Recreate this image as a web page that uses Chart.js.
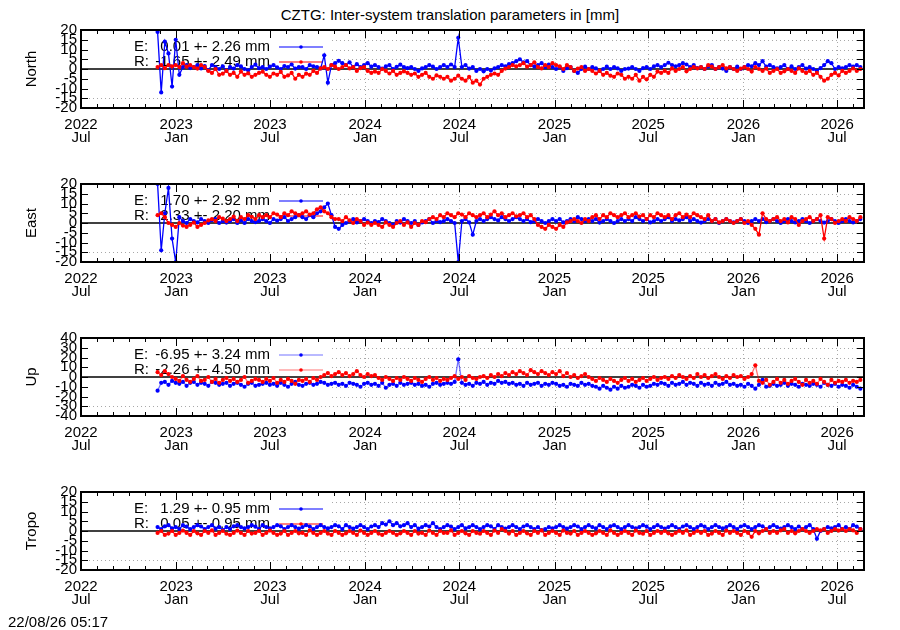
<!DOCTYPE html>
<html>
<head>
<meta charset="utf-8">
<script src="https://cdn.jsdelivr.net/npm/chart.js@4.4.1/dist/chart.umd.min.js"></script>
<style>
  body { margin: 0; background: #fff; width: 900px; height: 630px; position: relative; overflow: hidden;
         font-family: 'Liberation Sans', Arial, sans-serif; color: #000; }
  .panel { position: absolute; left: 0; width: 900px; height: 136px; }
  #title { position: absolute; top: 6px; left: 0; width: 900px; text-align: center; font-size: 15px; line-height: 17px; }
  #stamp { position: absolute; left: 8px; top: 613px; font-size: 15px; line-height: 17px; }
</style>
</head>
<body>
<div id="title">CZTG: Inter-system translation parameters in [mm]</div>
<canvas id="c0" class="panel" width="900" height="136" style="top:17px"></canvas>
<canvas id="c1" class="panel" width="900" height="136" style="top:171px"></canvas>
<canvas id="c2" class="panel" width="900" height="136" style="top:325px"></canvas>
<canvas id="c3" class="panel" width="900" height="136" style="top:479px"></canvas>
<div id="stamp">22/08/26 05:17</div>
<script>
// gnuplot-like 4 panel plot, x axis in days since 2022-07-01
const FONT = "'Liberation Sans', Arial, sans-serif";
const FIRST_DAY = 148;   // first sample, late Nov 2022
const STEP_DAYS = 7;     // one sample per week
const X_MAX = 1513;      // 2026-08-22

const panelNames = ['North', 'East', 'Up', 'Tropo'];
const yLimits = [20, 20, 40, 20];
const yStepSizes = [5, 5, 10, 5];
const keyE = ['0.01 +- 2.26 mm', '1.70 +- 2.92 mm', '-6.95 +- 3.24 mm', '1.29 +- 0.95 mm'];
const keyR = ['-1.65 +- 2.49 mm', '2.33 +- 2.20 mm', '-2.26 +- 4.50 mm', '0.05 +- 0.95 mm'];
const halfYearLabels = [['2022', 'Jul'], ['2023', 'Jan'], ['2023', 'Jul'], ['2024', 'Jan'], ['2024', 'Jul'],
                        ['2025', 'Jan'], ['2025', 'Jul'], ['2026', 'Jan'], ['2026', 'Jul']];

const northE = [
  19, -12, 14, 8, -9, 15, -3, 1, 2, 0.5,
  1, 2, 0.3, 1.5, -0.6, 2, 1, 0, 1.4, -0.8,
  1, 0.2, 2, 1.3, 0, -0.7, 1, 2.2, 0.4, 1,
  0, 1.2, 2, 0.8, 0, 1.5, 1, 2.3, 0.2, 1,
  1, 0, 2, 1.4, 1, 0.3, 7, -7, 2, 3,
  4.2, 3, 2, 3.4, 1, 2.5, 1, 2, 3, 1.2,
  2, 1, 0.2, 1.3, 2, 0, 1.1, 2.2, 1, 0.4,
  1, 0, -1, 0.3, 1, 2, 1.2, 0, 1, 2,
  1, 2.3, 1, 16, 1, 2, 0.2, 1, -1, 0,
  -1.2, 0, -0.8, 0.3, 1, 2, 1.4, 2.5, 3, 4,
  5, 3.4, 4, 2, 1.3, 2, 3, 1, 2.2, 1,
  0, 1, -1, 0.4, 1, -1, -2, 0, 1.2, 0,
  1, 0.3, -1, 0, 1.2, 0, 1, 0.3, -1, 0,
  0.2, 1, 0, -1, 0.4, 1, 0, 1.3, 2, 1,
  2, 3.2, 2, 1.4, 2, 3, 2.3, 1, 2, 0.4,
  1, 0, 1.3, 2, 0, 1, 0.2, -1, 1, 0,
  1.2, 0, 1, 2, 1.4, 3, 2, 4, 1.2, 2,
  1, 0.3, 1, 2, 0, 1.3, 0, 1, 2, 0.2,
  1, 0, -1, 0.4, 2, 4, 3, 0, 1, 0.3,
  1, 2, 1.2, 2, 1
];
const northR = [
  1, 2, 0.4, 2, 1.3, 2, 1, 3, 1.2, 2,
  1, 0.2, 2, 1, -1, -2, 0, -3, -2.4, -1,
  -3, -2, -4, -1.3, -3, -2.2, -4, -3, -2, -1.4,
  -3, -4, -2.3, -3, -1.5, -4, -3.3, -2, -5, -3,
  -4, -2.4, -3, -1, -2, 0.3, 1, 0, 2, 1.2,
  0, 1, 2, 0.3, 1, -1, 0.4, 1, -1, -2,
  -1.3, -2, 0, -1, -2.3, -1, -3, -2, -1.2, -2,
  -3, -2.3, -4, -3, -2, -4, -5, -3.3, -4, -5,
  -4, -6, -5, -3.4, -5, -6, -4, -7, -6, -8,
  -5, -4, -3, -2.3, -3, -1, 0.2, 1, 2, 1.3,
  2, 3, 1.2, 2, 3.4, 1, 0.3, 2, 1, 3,
  2, 1.3, 0, 2, 1, -1, 0.2, 1, -1, 0,
  -1, -2.3, -1, -3, -2, -3.4, -4, -2.3, -3, -5,
  -4, -5, -3, -6, -4, -5.3, -3, -4, -1.3, -2,
  -1, -2, 0.3, -1, 0, 1, -1.2, 0, 1, 0.3,
  1, 0, 2, 1.2, 0, 1, 2, 0.3, 1, 0,
  -1, 0.2, 1, 0, -1.3, 1, 0, -1, 0.2, -2,
  -1, 0, -2, -1.2, 0, -1, -2, 0.3, -1, -2,
  -1, -3, -2, -4, -6, -5, -3, -2, -3.3, -1,
  -2, -1, 0.3, -1, 0
];
const eastE = [
  20, -14, 5, 18, -8, -20, 3, 1, 0, 2,
  1, 0.3, 2, 1, 0, 1.4, 2, 0, 1, 0.2,
  1, 2, 0, 1.3, 0, 2, 1, 0.4, 1, 2,
  1, 0, 2, 1.2, 2, 3, 1, 2, 3, 4,
  3, 2, 4, 3, 5, 6, 8, 10, 4, -2,
  -3, -1, 0, 1, 2, 0.3, 1, 2, 1, 0,
  1, 0.4, 2, 1, 0, -1, 1, 0.2, 2, 1,
  0, 1, -1, 0.3, 1, 2, 0, 1, 0.4, 1,
  2, 1, 0, -20, 1, 2, 0.3, -6, 1, 2,
  1, 2, 3, 2, 1.3, 3, 2, 1, 2, 3,
  2, 1, 2, 0.4, 1, 2, 1, 0, 1, 2,
  1, 2, 0.3, 1, 2, 1, 3, 2, 1, 2,
  1, 2, 0.2, 1, 2, 1, 0, 1, 2, 1,
  2, 1, 3, 2, 1, 2, 0.3, 1, 2, 1,
  2, 3, 1, 2, 1.3, 2, 3, 1, 2, 1,
  0.2, 1, 2, 1, 2, 0, 1, 2, 1, 0.3,
  1, 2, 1, 0, 1, 2, 1, 2, 0.4, 1,
  2, 1, 0, 1, 2, 1, 0.3, 1, 2, 1,
  0, 1, 2, 1, 0.2, 1, 2, 1, 0, 1,
  2, 1, 0.3, 1, 2
];
const eastR = [
  4, 5, 3, 0, -1, -2, 0, -1.3, -2, -1,
  0.2, -2, -1, 0, 1.3, 2, 1, 3, 2.2, 1,
  2, 3.3, 1, 3, 2, 4, 3.2, 2, 4, 3,
  4, 3, 5, 4.3, 3, 5, 4, 6, 5, 4,
  5, 6, 4.3, 5, 7, 8, 6, 5, 3, 2,
  2, 1, 3, 1.3, 0, 2, 1, -1, 0.2, -1,
  0, -1, -2, 0.3, -1, -2, 0, 1, -1, 0.3,
  -2, 0, -1, 1, 0.4, 2, 3, 2, 4, 3,
  5, 4, 3, 5, 4.3, 3, 5, 4, 3, 4,
  5, 3, 4.3, 6, 4, 5, 3, 4, 5, 3.4,
  4, 5, 3, 4, 2, -1, -2, -3, -1, -2,
  -3, -1, -2, 0.3, 1, 2, 1, 0, 2, 1,
  3, 4, 2, 4, 3, 5, 4, 3, 4, 5,
  3, 4, 5, 3.3, 4, 2, 4, 3, 5, 4,
  3, 4, 2, 4, 5, 3, 4.3, 3, 5, 4,
  3, 2, 4, 1, 2, 0.3, 1, 2, 1, 0,
  1, 2, 0, 1, -1, -3, -6, 5, 2, 1,
  2, 3, 1, 2, 0.3, 3, 2, -1, 1, 2,
  3, 1, 2, 4, -8, 3, 2, 0, 1, 2,
  1, 3, 2, 1, 3
];
const upE = [
  -14, -6, -5, -8, -4, -6, -7, -5, -9, -6,
  -5, -8, -6, -7, -9, -5, -6, -8, -7, -6,
  -9, -7, -6, -8, -10, -7, -6, -9, -8, -7,
  -6, -8, -7, -9, -6, -8, -10, -7, -5, -8,
  -9, -7, -6, -8, -7, -5, -6, -8, -7, -6,
  -8, -7, -9, -6, -7, -8, -10, -7, -6, -8,
  -7, -9, -6, -11, -8, -7, -9, -6, -8, -7,
  -6, -8, -7, -9, -8, -10, -7, -6, -8, -7,
  -6, -7, -5, 18, -6, -8, -7, -9, -6, -7,
  -5, -8, -6, -7, -4, -6, -5, -7, -6, -8,
  -7, -9, -6, -8, -7, -6, -9, -7, -8, -6,
  -7, -9, -8, -10, -7, -8, -9, -6, -8, -7,
  -9, -10, -12, -9, -11, -13, -10, -12, -9, -11,
  -10, -8, -9, -11, -8, -10, -9, -7, -8, -6,
  -7, -9, -6, -8, -7, -5, -8, -6, -7, -9,
  -6, -8, -7, -9, -6, -8, -7, -5, -8, -7,
  -9, -8, -10, -7, -9, -12, -8, -3, -10, -9,
  -7, -9, -8, -6, -9, -7, -8, -10, -7, -8,
  -9, -7, -8, -10, -6, -8, -9, -7, -10, -8,
  -9, -11, -8, -10, -12
];
const upR = [
  5, 2, 6, 3, 0, -2, -4, 1, -3, -5,
  -2, 1, -4, -3, 0, -5, -2, -6, -3, -1,
  -4, -2, -5, -3, 0, -6, -4, -2, -3, -5,
  -2, -4, -1, -6, -3, -5, -2, -4, -7, -3,
  -4, -2, -5, -1, -3, 0, 2, 4, 1, 3,
  5, 2, 4, 1, 3, 6, 2, 0, 3, 1,
  2, -1, -3, 0, -2, -4, -1, -3, 0, -2,
  -4, -1, -3, -5, -2, 0, -3, -1, -4, -2,
  -3, -1, 1, -2, 0, -3, 1, -1, -2, 0,
  1, -1, 2, 0, 3, 1, 4, 2, 5, 3,
  6, 4, 2, 7, 5, 3, 6, 4, 2, 5,
  3, 6, 1, 4, 0, 2, -1, 1, 3, 0,
  -2, -4, -1, -3, -5, -2, -4, -6, -3, -1,
  -4, -2, -5, -3, -1, -4, -2, 0, -3, -1,
  0, -2, 1, -1, 2, 0, -2, 1, -1, 3,
  0, 2, -1, 1, 3, 0, -2, 1, -1, 2,
  0, 1, -2, 0, 3, 12, -4, -6, -3, -8,
  -5, -2, -6, -3, -7, -4, -2, -5, -8, -3,
  -6, -4, -7, -2, -5, -8, -3, -6, -4, -5,
  -3, -6, -4, -5, -3
];
const tropoE = [
  2, 1, 2.4, 3, 1.3, 2, 1, 3, 2.2, 1,
  2, 3, 2.3, 1, 2, 3, 1.2, 2, 0.4, 2,
  1, 2.4, 3, 2, 1.3, 2, 3, 2.2, 1, 3,
  2, 1.3, 2, 3, 2.4, 1, 2, 3, 2, 1.2,
  2, 3, 2.3, 1, 2, 3, 2, 1.3, 2, 3,
  2.4, 1, 3, 2, 1.2, 2, 3, 2, 1, 2.3,
  3, 2, 4, 3.3, 5, 3, 4, 2.4, 3, 4,
  2, 3, 1.2, 2, 3, 2.3, 4, 2, 1, 2,
  3, 2.2, 1, 2, 3, 1.3, 2, 3, 2, 1,
  2, 3, 2.4, 1, 3, 2, 1.2, 2, 3, 2,
  1, 2.3, 3, 2, 1, 2, 0.4, 1, 2, 1.3,
  2, 3, 2, 1.2, 2, 3, 2.3, 1, 2, 3,
  2, 1.3, 3, 2, 1, 2.4, 3, 2, 1, 2,
  3, 2, 1.3, 2, 3, 2.2, 1, 2, 3, 2,
  1.2, 2, 3, 2, 1, 2.3, 3, 2, 1, 2,
  3, 2.2, 1, 2, 3, 2, 1.3, 2, 3, 2,
  1, 2.3, 3, 2, 1, 2, 3, 2.4, 1, 2,
  3, 2, 1.2, 2, 3, 2, 1, 2.3, 1, 2,
  3, 1, -4, 0, 1, 2, 1.3, 2, 3, 1,
  2, 1, 3, 2.2, 1
];
const tropoR = [
  -1, 0, -2, -1.3, 0, -2, -1, 0.2, -1, -2,
  0, -1.2, -2, 0, -1, 0.3, -2, -1, 0, -1.4,
  -2, -1, 0.2, -1, -2, 0, -1.3, -1, 0, -2,
  -1, 0.2, -1, -2, -1.3, 0, -2, -1, 0, -1.2,
  -1, -2, 0.3, -1, -2, -1, 0, -1.3, -2, 0,
  -1, -2, -1.2, 0, -1, -2, 0.2, -1, -2, -1,
  0, -1.3, -2, -1, 0, -1, -2, -1.2, 0, -1,
  -2, 0, -1.3, -1, -2, 0.2, -1, -2, 0, -1,
  -1, 0.3, -2, -1, 0, -1.2, -2, 0, -1, -1.4,
  0, -1, -2, 0.2, -1, 1, 0, -1.3, 0, -2,
  -1, 0, -1.2, -2, 0, -1, 0.3, -2, -1, 0,
  -1, -2, 0.2, -1, -1.3, 0, -2, -1, 0, -1,
  -2, -1.2, 0, -1, -2, 0.3, -1, -2, -1, 0,
  -1, -2, 0.2, -1, -1.4, 0, -2, -1, 0, -1,
  0, -1.2, -2, -1, 0, -1, 0.3, -2, -1, 0,
  -1, 0, -2, -1.3, 0, -1, -2, 0.2, -1, 0,
  -1, -2, 0, -1, -3, 0, -1.2, 0, 1, -1,
  0, -1, 0.3, 1, -1, 0, -1.2, 0, 1, 0,
  -1, 0, 1, 0.3, 1, -1, 0, 1, 0.2, 1,
  0, 1, 0.3, -1, 1
];

const seriesE = [northE, eastE, upE, tropoE];
const seriesR = [northR, eastR, upR, tropoR];

// month tick positions (days since 2022-07-01)
const DAY_MS = 86400000;
const ORIGIN = Date.UTC(2022, 6, 1);
const monthDays = [];
const majorDays = [];
for (let y = 2022; y <= 2026; y++) {
  for (let m = 0; m < 12; m++) {
    const d = Math.round((Date.UTC(y, m, 1) - ORIGIN) / DAY_MS);
    if (d < 0 || d > X_MAX) continue;
    monthDays.push(d);
    if (m === 0 || m === 6) majorDays.push(d);
  }
}

function toPoints(vals) {
  return vals.map((v, i) => ({ x: FIRST_DAY + STEP_DAYS * i, y: v }));
}

function hline(ctx, x0, x1, y) { ctx.beginPath(); ctx.moveTo(x0, y); ctx.lineTo(x1, y); ctx.stroke(); }
function vline(ctx, x, y0, y1) { ctx.beginPath(); ctx.moveTo(x, y0); ctx.lineTo(x, y1); ctx.stroke(); }

// grid, key and frame in gnuplot style
const gnuplotFrame = {
  id: 'gnuplotFrame',
  beforeDatasetsDraw(chart, args, opts) {
    const { ctx, chartArea: a, scales: { x, y } } = chart;
    const keyRight = a.left + 251;
    const keyBottom = a.top + 64;
    ctx.save();
    ctx.strokeStyle = '#a8a8a8';
    ctx.lineWidth = 1;
    ctx.setLineDash([1, 3]);
    y.ticks.forEach(t => {
      if (t.value === 0 || Math.abs(t.value) >= y.max) return;
      const py = Math.round(y.getPixelForValue(t.value)) + 0.5;
      hline(ctx, py < keyBottom ? keyRight : a.left, a.right, py);
    });
    majorDays.forEach(d => {
      const px = Math.round(x.getPixelForValue(d)) + 0.5;
      if (px < keyRight || px >= a.right - 1) return;
      vline(ctx, px, a.top, a.bottom);
    });
    ctx.setLineDash([]);

    // zero axis
    ctx.strokeStyle = '#000';
    ctx.lineWidth = 1.5;
    hline(ctx, a.left, a.right, y.getPixelForValue(0));

    // key
    ctx.font = '15px ' + FONT;
    ctx.fillStyle = '#000';
    ctx.textBaseline = 'middle';
    const rows = [['E:', opts.keyE, chart.data.datasets[0]], ['R:', opts.keyR, chart.data.datasets[1]]];
    rows.forEach((r, k) => {
      const ry = a.top + 17 + k * 15;
      ctx.textAlign = 'left';
      ctx.fillText(r[0], a.left + 53, ry);
      ctx.textAlign = 'right';
      ctx.fillText(r[1], a.left + 189, ry);
      ctx.strokeStyle = r[2].borderColor;
      ctx.lineWidth = 1.2;
      hline(ctx, a.left + 198, a.left + 242, ry);
      ctx.fillStyle = r[2].pointBackgroundColor;
      ctx.beginPath();
      ctx.arc(a.left + 220, ry, 1.8, 0, Math.PI * 2);
      ctx.fill();
      ctx.fillStyle = '#000';
    });

    // y axis title
    ctx.save();
    ctx.translate(32, (a.top + a.bottom) / 2);
    ctx.rotate(-Math.PI / 2);
    ctx.textAlign = 'center';
    ctx.fillText(opts.name, 0, 0);
    ctx.restore();
    ctx.restore();
  },
  afterDatasetsDraw(chart) {
    const { ctx, chartArea: a, scales: { x, y } } = chart;
    ctx.save();
    ctx.strokeStyle = '#000';
    ctx.lineWidth = 1;
    monthDays.forEach(d => {
      const px = Math.round(x.getPixelForValue(d)) + 0.5;
      const len = majorDays.includes(d) ? 8 : 4;
      vline(ctx, px, a.bottom, a.bottom - len);
      vline(ctx, px, a.top, a.top + len);
    });
    y.ticks.forEach(t => {
      const py = Math.round(y.getPixelForValue(t.value)) + 0.5;
      hline(ctx, a.left, a.left + 7, py);
      hline(ctx, a.right, a.right - 7, py);
    });
    ctx.lineWidth = 2;
    ctx.strokeRect(a.left, a.top, a.right - a.left, a.bottom - a.top);
    ctx.restore();
  }
};

function makePanel(i) {
  const faded = i === 2;
  const blueLine = faded ? 'rgba(0, 0, 255, 0.55)' : '#0000ff';
  const redLine = faded ? 'rgba(255, 0, 0, 0.55)' : '#ff0000';
  const common = { borderWidth: 1.3, pointRadius: 2.1, pointBorderWidth: 0, tension: 0 };
  return new Chart(document.getElementById('c' + i), {
    type: 'line',
    data: {
      datasets: [
        { ...common, label: 'E', data: toPoints(seriesE[i]), borderColor: blueLine,
          pointBackgroundColor: '#0000ff', backgroundColor: '#0000ff', order: 2 },
        { ...common, label: 'R', data: toPoints(seriesR[i]), borderColor: redLine,
          pointBackgroundColor: '#ff0000', backgroundColor: '#ff0000', order: 1 }
      ]
    },
    options: {
      responsive: false,
      animation: false,
      events: [],
      layout: { padding: { top: 12, right: 36, bottom: 0, left: 0 } },
      plugins: {
        legend: { display: false },
        tooltip: { enabled: false },
        gnuplotFrame: { name: panelNames[i], keyE: keyE[i], keyR: keyR[i] }
      },
      scales: {
        x: {
          type: 'linear',
          min: 0,
          max: X_MAX,
          grid: { display: false, drawTicks: false },
          border: { display: false },
          afterBuildTicks: s => { s.ticks = monthDays.map(v => ({ value: v })); },
          afterFit: s => { s.height = 45; },
          ticks: {
            autoSkip: false,
            maxRotation: 0,
            padding: 10,
            color: '#000',
            font: { family: FONT, size: 15, lineHeight: 0.87 },
            callback: v => {
              const k = majorDays.indexOf(v);
              return k >= 0 ? halfYearLabels[k] : '';
            }
          }
        },
        y: {
          min: -yLimits[i],
          max: yLimits[i],
          grid: { display: false, drawTicks: false },
          border: { display: false },
          afterFit: s => { s.width = 81; },
          ticks: {
            stepSize: yStepSizes[i],
            autoSkip: false,
            padding: 4,
            color: '#000',
            font: { family: FONT, size: 15 }
          }
        }
      }
    },
    plugins: [gnuplotFrame]
  });
}

panelNames.forEach((_, i) => makePanel(i));
</script>
</body>
</html>
